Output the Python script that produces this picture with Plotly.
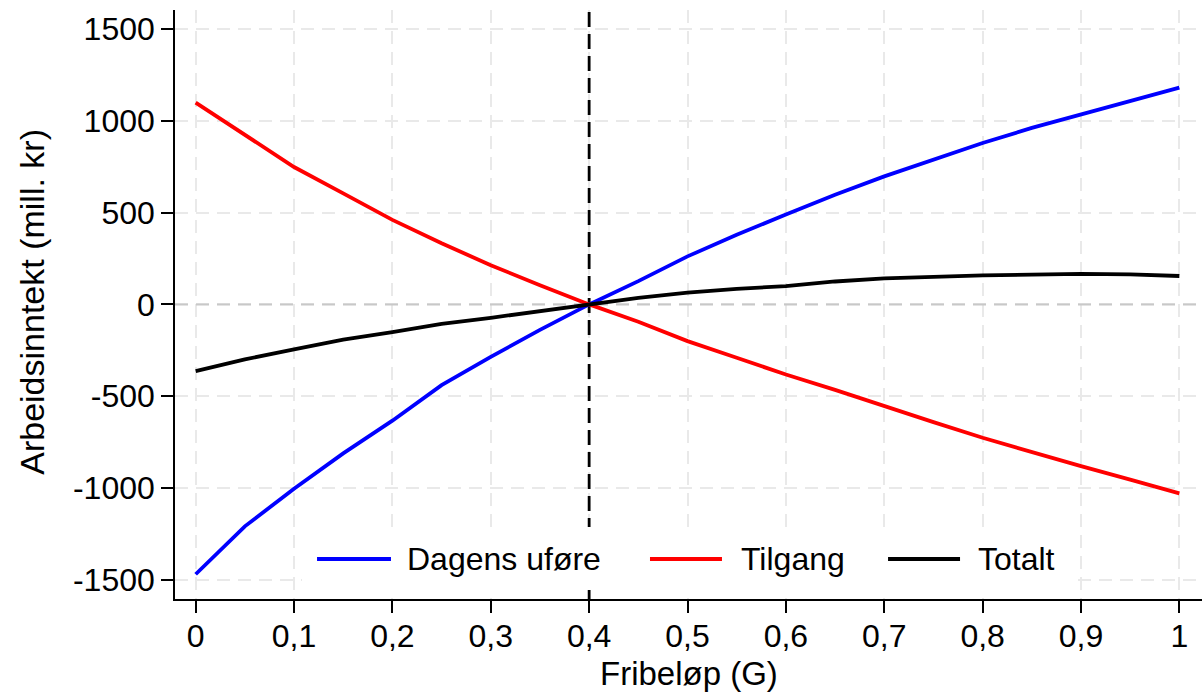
import plotly.graph_objects as go

# Fribeløp (andel av G)
fribelop = [0.00, 0.05, 0.10, 0.15, 0.20, 0.25, 0.30, 0.35, 0.40, 0.45, 0.50,
            0.55, 0.60, 0.65, 0.70, 0.75, 0.80, 0.85, 0.90, 0.95, 1.00]

# Endring i arbeidsinntekt, mill. kr
dagens_ufore = [-1471, -1210, -1005, -812, -634, -440, -286, -139, 0, 127, 262,
                380, 490, 598, 698, 791, 880, 962, 1036, 1109, 1182]
tilgang = [1100, 925, 749, 605, 461, 333, 214, 104, 0, -95, -200,
           -291, -382, -466, -555, -642, -727, -805, -882, -955, -1030]
totalt = [-364, -300, -245, -192, -151, -106, -73, -36, 0, 36, 64,
          85, 100, 125, 142, 151, 158, 162, 167, 164, 155]

series_names = ["Dagens uføre", "Tilgang", "Totalt"]
series_colors = ["#0000ff", "#ff0000", "#000000"]

dagens_fribelop = 0.4

x_range = [-0.021, 1.023]
y_range = [-1606, 1605]
x_tickvals = [0, 0.1, 0.2, 0.3, 0.4, 0.5, 0.6, 0.7, 0.8, 0.9, 1.0]
x_ticktext = ["0", "0,1", "0,2", "0,3", "0,4", "0,5", "0,6", "0,7", "0,8", "0,9", "1"]
y_tickvals = [-1500, -1000, -500, 0, 500, 1000, 1500]
y_ticktext = ["-1500", "-1000", "-500", "0", "500", "1000", "1500"]

x_title = "Fribeløp (G)"
y_title = "Arbeidsinntekt (mill. kr)"

FONT = "Liberation Sans, Arial, sans-serif"
FS = 32

fig = go.Figure()

# nulllinje og dagens fribeløp, under kurvene
fig.add_trace(go.Scatter(x=x_range, y=[0, 0], mode="lines", hoverinfo="skip",
                         line=dict(color="#c8c8c8", width=2, dash="13px,8px"),
                         showlegend=False))
fig.add_trace(go.Scatter(x=[dagens_fribelop, dagens_fribelop], y=y_range, mode="lines",
                         hoverinfo="skip", line=dict(color="black", width=2.8, dash="15px,7px"),
                         showlegend=False))

for name, vals, col in zip(series_names, [dagens_ufore, tilgang, totalt], series_colors):
    fig.add_trace(go.Scatter(x=fribelop, y=vals, mode="lines", name=name,
                             line=dict(color=col, width=3.8), showlegend=False))

grid = dict(showgrid=True, gridcolor="#e9e9e9", gridwidth=2, griddash="13px,8px",
            zeroline=False, showline=True, linecolor="black", linewidth=1.6,
            ticks="outside", ticklen=12, tickwidth=1.6, tickcolor="black",
            tickfont=dict(family=FONT, size=FS, color="black"))

fig.update_xaxes(range=x_range, tickvals=x_tickvals, ticktext=x_ticktext,
                 ticklabelstandoff=-4, **grid)
fig.update_yaxes(range=y_range, tickvals=y_tickvals, ticktext=y_ticktext, **grid)

# bakgrunn for tegnforklaring
shapes = [
    dict(type="rect", xref="paper", yref="paper", x0=0.1237, x1=0.8763, y0=0.0153,
         y1=0.1222, layer="above", fillcolor="white", line=dict(width=0)),
]

legend_line_x = [(0.1383, 0.2103), (0.4625, 0.5326), (0.6943, 0.7644)]
legend_text_x = [0.2240, 0.5492, 0.7800]
legend_y = 0.0679
annotations = []
for name, col, (lx0, lx1), tx in zip(series_names, series_colors, legend_line_x, legend_text_x):
    shapes.append(dict(type="line", xref="paper", yref="paper", x0=lx0, x1=lx1,
                       y0=legend_y, y1=legend_y, layer="above",
                       line=dict(color=col, width=3.8)))
    annotations.append(dict(text=name, xref="paper", yref="paper", x=tx, y=legend_y,
                            xanchor="left", yanchor="middle", showarrow=False,
                            font=dict(family=FONT, size=FS, color="black")))

annotations.append(dict(text=x_title, xref="paper", yref="paper", x=0.5, y=-0.126,
                        xanchor="center", yanchor="middle", showarrow=False,
                        font=dict(family=FONT, size=FS + 1, color="black")))
annotations.append(dict(text=y_title, xref="paper", yref="paper", x=-0.140, y=0.505,
                        xanchor="center", yanchor="middle", showarrow=False, textangle=-90,
                        font=dict(family=FONT, size=FS + 2, color="black")))

fig.update_layout(width=1202, height=698, margin=dict(l=175, r=0, t=10, b=99),
                  paper_bgcolor="white", plot_bgcolor="white",
                  shapes=shapes, annotations=annotations, showlegend=False,
                  font=dict(family=FONT, size=FS, color="black"))

fig.write_html("out.html")
